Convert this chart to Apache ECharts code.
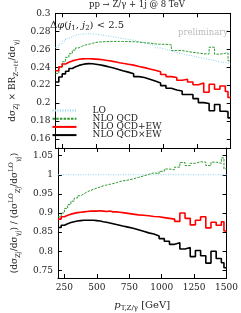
<!DOCTYPE html>
<html><head><meta charset="utf-8">
<script src="https://cdn.jsdelivr.net/npm/echarts@6/dist/echarts.min.js"></script>
<style>html,body{margin:0;padding:0;background:#fff}#c{width:241px;height:313px}</style>
</head><body><div id="c"></div>
<script>
// bin edges in GeV
var binEdges = [200,225,250,275,300,325,350,375,400,425,450,475,500,525,550,575,600,625,650,675,700,740,780,820,860,900,940,980,1020,1060,1100,1140,1180,1220,1260,1300,1340,1380,1420,1460,1480,1500];
var seriesNames = ['LO','NLO QCD','NLO QCD+EW','NLO QCD\u00d7EW'];
// top panel: dsigma_Zj x BR / dsigma_gammaj
var topLO = [0.262,0.266,0.269,0.272,0.274,0.2755,0.2765,0.277,0.2772,0.2772,0.277,0.2767,0.2762,0.2757,0.275,0.2745,0.274,0.2732,0.2725,0.2718,
0.271,0.270,0.2685,0.267,0.2655,0.264,0.2615,0.2598,0.258,0.2565,0.255,0.2535,0.2525,0.251,0.250,0.2485,0.2475,0.246,0.245,0.2445,0.2435];
var topNLOQCD = [0.233,0.240,0.246,0.251,0.255,0.259,0.2615,0.2635,0.2648,0.2657,0.2665,0.2675,0.268,0.2683,0.2685,0.2686,0.2687,0.2687,0.2687,0.2686,
0.2685,0.2684,0.268,0.2672,0.2668,0.266,0.2655,0.2655,0.2648,0.2585,0.2585,0.2575,0.2565,0.2558,0.2548,0.2548,0.2622,0.2545,0.2555,0.2558,0.247];
var topQCDplusEW = [0.236,0.2405,0.2435,0.2455,0.247,0.248,0.2488,0.2492,0.2494,0.2494,0.2493,0.249,0.2487,0.2483,0.2477,0.2472,0.2465,0.2458,0.245,0.2443,
0.2433,0.2423,0.2408,0.2395,0.238,0.2365,0.235,0.2318,0.2295,0.2285,0.2255,0.2265,0.2235,0.2205,0.2225,0.212,0.221,0.2155,0.219,0.213,0.2063];
var topQCDtimesEW = [0.2235,0.229,0.2325,0.2355,0.2385,0.2405,0.242,0.243,0.2437,0.244,0.2438,0.2433,0.2427,0.242,0.2412,0.2402,0.2393,0.2383,0.2372,0.236,
0.2345,0.2328,0.2295,0.2285,0.2265,0.2245,0.2225,0.2195,0.2165,0.2145,0.2135,0.2095,0.2095,0.205,0.2005,0.1995,0.1915,0.1985,0.191,0.1905,0.1835];
// bottom panel: ratio to LO
var ratioLO = [1,1,1,1,1,1,1,1,1,1,1,1,1,1,1,1,1,1,1,1,1,1,1,1,1,1,1,1,1,1,1,1,1,1,1,1,1,1,1,1,1];
var ratioNLOQCD = [0.890,0.900,0.912,0.922,0.931,0.939,0.945,0.950,0.955,0.959,0.962,0.965,0.968,0.971,0.973,0.975,0.977,0.979,0.982,0.984,
0.986,0.989,0.993,0.997,1.001,1.005,1.003,1.009,1.015,1.013,1.020,1.032,1.024,1.030,1.034,1.033,1.024,1.033,1.030,1.044,1.015];
var ratioQCDplusEW = [0.884,0.890,0.894,0.897,0.899,0.901,0.902,0.903,0.904,0.905,0.905,0.905,0.906,0.905,0.904,0.905,0.903,0.903,0.902,0.901,
0.899,0.897,0.895,0.894,0.893,0.891,0.890,0.888,0.886,0.884,0.878,0.900,0.886,0.869,0.881,0.890,0.861,0.876,0.868,0.877,0.853];
var ratioQCDtimesEW = [0.862,0.868,0.872,0.875,0.877,0.879,0.880,0.881,0.881,0.881,0.881,0.880,0.879,0.877,0.876,0.874,0.872,0.870,0.868,0.866,
0.863,0.860,0.856,0.852,0.848,0.845,0.840,0.833,0.826,0.818,0.822,0.806,0.810,0.786,0.802,0.788,0.769,0.800,0.781,0.770,0.757];
// ticks
var xTicks = [250,500,750,1000,1250,1500];
var topYTicks = [0.16,0.18,0.2,0.22,0.24,0.26,0.28,0.3];
var botYTicks = [0.75,0.8,0.85,0.9,0.95,1,1.05];

var FONT = 'DejaVu Serif';
var TXT = '#222';
function hist(vals){
  var d = vals.map(function(v,i){return [binEdges[i], v];});
  d.push([binEdges[binEdges.length-1], vals[vals.length-1]]);
  return d;
}
var styles = [
  {color:'#86d2ee', width:1, type:[1,1.5]},
  {color:'#2f9a2f', width:1, type:[2.5,1.2]},
  {color:'#ff0000', width:1.6, type:'solid'},
  {color:'#000000', width:1.6, type:'solid'}
];
var topData = [topLO, topNLOQCD, topQCDplusEW, topQCDtimesEW];
var botData = [ratioLO, ratioNLOQCD, ratioQCDplusEW, ratioQCDtimesEW];

function fmt(v){ return String(+(+v).toFixed(2)); }
function fmtX(v){ return String(Math.round(v)); }
function xAx(grid, pos, labels){
  return {type:'value', gridIndex:grid, position:pos, min:200, max:1500,
    axisLine:{show:true, onZero:false, lineStyle:{color:'#000', width:1}},
    axisTick:{show:true, inside:true, length:4, customValues:xTicks, lineStyle:{color:'#000'}},
    axisLabel:{show:labels, customValues:xTicks, margin:5, fontFamily:FONT, fontSize:9, color:TXT, formatter:fmtX},
    splitLine:{show:false}};
}
function yAx(grid, pos, labels, mn, mx, ticks){
  return {type:'value', gridIndex:grid, position:pos, min:mn, max:mx,
    axisLine:{show:true, onZero:false, lineStyle:{color:'#000', width:1}},
    axisTick:{show:true, inside:true, length:4, customValues:ticks, lineStyle:{color:'#000'}},
    axisLabel:{show:labels, customValues:ticks, margin:5, fontFamily:FONT, fontSize:9, color:TXT, formatter:fmt},
    splitLine:{show:false}};
}
var xAxes = [xAx(0,'bottom',false), xAx(0,'top',false), xAx(1,'bottom',true), xAx(1,'top',false)];
xAxes[2].name = '{i|p}{s|T,Z/\u03b3}{n| [GeV]}';
xAxes[2].nameLocation = 'middle';
xAxes[2].nameGap = 20;
xAxes[2].nameTextStyle = {fontFamily:FONT, color:TXT, rich:{
  i:{fontFamily:FONT, fontStyle:'italic', fontSize:10, lineHeight:14, color:TXT},
  s:{fontFamily:FONT, fontSize:7, lineHeight:8, verticalAlign:'bottom', color:TXT},
  n:{fontFamily:FONT, fontSize:10, lineHeight:14, color:TXT}}};
var yAxes = [yAx(0,'left',true,0.15,0.3,topYTicks), yAx(0,'right',false,0.15,0.3,topYTicks),
             yAx(1,'left',true,0.73,1.07,botYTicks), yAx(1,'right',false,0.73,1.07,botYTicks)];
var richY = {
  n:{fontFamily:FONT, fontSize:9, lineHeight:14, color:TXT},
  s:{fontFamily:FONT, fontSize:6.5, lineHeight:8, verticalAlign:'bottom', color:TXT},
  u:{fontFamily:FONT, fontSize:6.5, lineHeight:8, verticalAlign:'top', color:TXT}
};
yAxes[0].name = '{n|d\u03c3}{s|Zj}{n| \u00d7 BR}{s|Z\u2192\u2113\u2113}{n|/d\u03c3}{s|\u03b3j}';
yAxes[0].nameLocation = 'middle'; yAxes[0].nameGap = 28; yAxes[0].nameRotate = 90;
yAxes[0].nameTextStyle = {rich:richY};
yAxes[2].name = '{n|(d\u03c3}{s|Zj}{n|/d\u03c3}{s|\u03b3j}{n|) / (d\u03c3}{u|LO}{s|Zj}{n|/d\u03c3}{u|LO}{s|\u03b3j}{n|)}';
yAxes[2].nameLocation = 'middle'; yAxes[2].nameGap = 28; yAxes[2].nameRotate = 90;
yAxes[2].nameTextStyle = {rich:richY};

var series = [];
for (var k=0;k<4;k++){
  series.push({name:seriesNames[k], type:'line', step:'end', xAxisIndex:0, yAxisIndex:0, data:hist(topData[k]),
    symbol:'none', lineStyle:styles[k], itemStyle:{color:styles[k].color}, animation:false, z:2+k});
  series.push({name:seriesNames[k], type:'line', step:'end', xAxisIndex:2, yAxisIndex:2, data:hist(botData[k]),
    symbol:'none', lineStyle:styles[k], itemStyle:{color:styles[k].color}, animation:false, z:2+k});
}

var chart = echarts.init(document.getElementById('c'), null, {renderer:'canvas'});
chart.setOption({
  animation:false,
  backgroundColor:'#fff',
  grid:[{left:42.7, right:10.3, top:13.3, height:134.7},
        {left:42.7, right:10.3, top:148, height:135.5}],
  xAxis:xAxes, yAxis:yAxes, series:series,
  legend:{data:seriesNames, orient:'vertical', left:51.5, top:106, padding:0, itemWidth:24, itemHeight:8, itemGap:-0.8,
    selectedMode:false,
    itemStyle:{color:'rgba(0,0,0,0)', borderColor:'rgba(0,0,0,0)', borderWidth:0},
    textStyle:{fontFamily:FONT, fontSize:9, color:TXT, padding:[0,0,0,11]}},
  graphic:[
    {type:'text', x:137, y:5, style:{text:'pp \u2192 Z/\u03b3 + 1j @ 8 TeV', font:'8.5px "DejaVu Serif"', fill:TXT, align:'center', verticalAlign:'middle'}},
    {type:'text', x:50, y:25.5, style:{text:'\u0394{i|\u03c6}({i|j}{s|1}, {i|j}{s|2}) < 2.5', font:'10px "DejaVu Serif"', fill:TXT,
      align:'left', verticalAlign:'middle',
      rich:{i:{fontFamily:FONT, fontStyle:'italic', fontSize:10, lineHeight:13, color:TXT},
            s:{fontFamily:FONT, fontSize:7, lineHeight:8, verticalAlign:'bottom', color:TXT}}}},
    {type:'text', x:178, y:33, style:{text:'preliminary', font:'8.5px "DejaVu Serif"', fill:'#bbbbbb', align:'left', verticalAlign:'middle'}}
  ]
});
</script></body></html>
